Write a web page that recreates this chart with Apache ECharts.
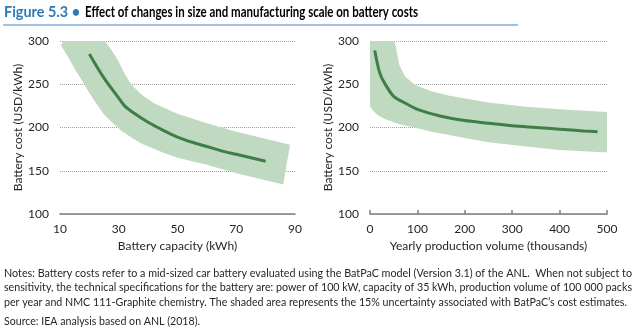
<!DOCTYPE html>
<html><head><meta charset="utf-8">
<script src="https://cdn.jsdelivr.net/npm/echarts@6/dist/echarts.min.js"></script>
<style>html,body{margin:0;padding:0;background:#fff}#c{width:640px;height:329px}</style>
</head><body><div id="c"></div>
<script>
// ---- data ----
const capacityTicks = [10, 30, 50, 70, 90];
const volumeTicks = [0, 100, 200, 300, 400, 500];
const costTicks = [100, 150, 200, 250, 300];

const capacityLine = [[20,285],[25,257],[30,234],[32,225],[35,217],[40,206],[45,197],[50,189],[55,183],[60,178],[65,173],[70,169],[75,165],[80,161]];
const capacityBandUpper = [[10.3,295],[11.2,300],[25.3,300],[27.5,290],[30,276],[32,262],[34.4,249],[37.8,238],[42,228],[50,216],[60,205],[70,195],[80,187],[88.3,180]];
const capacityBandLower = [[10.3,295],[13,280],[15,268],[17.5,254],[20,240],[22.5,227],[25,215],[28,205],[31,196],[35,187],[38,181],[45,171],[50,165],[60,157],[70,147],[80,139],[86,134]];

const volumeLine = [[10,289],[20,264],[30,252],[50,236],[75,228],[100,221],[150,213],[200,208],[250,205],[300,202],[350,200],[400,198],[450,196],[480,195]];
const volumeBandUpper = [[0,300],[52,300],[57,286],[62,272],[74,259],[95,249],[130,242],[165,237],[250,229],[330,224],[400,221],[500,218]];
const volumeBandLower = [[0,225],[5,220],[17.6,214],[30,210],[60,204],[100,199],[130,195],[200,188],[250,183],[330,178],[400,174],[500,171]];

const titleBlue = 'Figure 5.3 \u2022';
const titleBlack = 'Effect of changes in size and manufacturing scale on battery costs';
const notes = [
  'Notes: Battery costs refer to a mid-sized car battery evaluated using the BatPaC model (Version 3.1) of the ANL.  When not subject to',
  'sensitivity, the technical specifications for the battery are: power of 100 kW, capacity of 35 kWh, production volume of 100 000 packs',
  'per year and NMC 111-Graphite chemistry. The shaded area represents the 15% uncertainty associated with BatPaC\u2019s cost estimates.'
];
const source = 'Source: IEA analysis based on ANL (2018).';

// ---- styles ----
const FONT = 'Lato';
const LINE = '#3f7f47';
const BAND = '#c0d9c1';
const TXT = '#262626';

const ctx = document.createElement('canvas').getContext('2d');
function fit(text, size, weight, w) {
  ctx.font = weight + ' ' + size + 'px ' + FONT;
  return w / ctx.measureText(text).width;
}
function txt(text, x, y, size, weight, w, fill) {
  return {type:'text', x:x, y:y, scaleX: fit(text, size, weight, w), silent:true,
    style:{text:text, fontFamily:FONT, fontSize:size, fontWeight:weight, fill:fill||TXT, align:'left', verticalAlign:'middle'}};
}

function bandSeries(upper, lower, idx) {
  return {type:'custom', xAxisIndex:idx, yAxisIndex:idx, clip:true, silent:true, z:1,
    data:[[upper[0][0], upper[0][1]]],
    renderItem:function(params, api){
      const pts = upper.concat(lower.slice().reverse()).map(p => api.coord(p));
      return {type:'polygon', shape:{points:pts}, style:{fill:BAND}};
    }};
}
function lineSeries(data, idx) {
  return {type:'line', xAxisIndex:idx, yAxisIndex:idx, data:data, smooth:0.3, symbol:'none', silent:true, z:3,
    lineStyle:{color:LINE, width:3}};
}

const labelStyle = {fontFamily:FONT, fontSize:12, color:TXT};
function yAxis(idx, gap) {
  return {type:'value', gridIndex:idx, min:100, max:300, interval:50,
    name:'Battery cost (USD/kWh)', nameLocation:'middle', nameGap:gap, nameRotate:90,
    nameTextStyle:{fontFamily:FONT, fontSize:12, color:TXT},
    axisLine:{show:false}, axisTick:{show:false},
    axisLabel:Object.assign({margin:11}, labelStyle),
    splitLine:{show:true, lineStyle:{color:'#a0a0a0', type:[1,1], width:1}}};
}

const chart = echarts.init(document.getElementById('c'), null, {renderer:'canvas'});
chart.setOption({
  animation:false,
  backgroundColor:'#fff',
  grid:[
    {left:60, top:41, width:235, height:173},
    {left:370, top:41, width:237, height:173}
  ],
  xAxis:[
    {type:'value', gridIndex:0, min:10, max:90, interval:20,
      name:'Battery capacity (kWh)', nameLocation:'middle', nameGap:24,
      nameTextStyle:{fontFamily:FONT, fontSize:12, color:TXT},
      axisLine:{show:true, lineStyle:{color:'#7f7f7f', width:1.5}}, axisTick:{show:false},
      axisLabel:Object.assign({margin:9}, labelStyle), splitLine:{show:false}},
    {type:'value', gridIndex:1, min:0, max:500, interval:100,
      name:'Yearly production volume (thousands)', nameLocation:'middle', nameGap:24,
      nameTextStyle:{fontFamily:FONT, fontSize:12, color:TXT},
      axisLine:{show:true, lineStyle:{color:'#7f7f7f', width:1.5}},
      axisTick:{show:true, inside:true, length:4, lineStyle:{color:'#7f7f7f', width:1.5}},
      axisLabel:Object.assign({margin:9}, labelStyle), splitLine:{show:false}}
  ],
  yAxis:[yAxis(0, 36), yAxis(1, 33)],
  series:[
    bandSeries(capacityBandUpper, capacityBandLower, 0),
    lineSeries(capacityLine, 0),
    bandSeries(volumeBandUpper, volumeBandLower, 1),
    lineSeries(volumeLine, 1)
  ],
  graphic:[
    txt(titleBlue, 4, 12, 15.5, 'bold', 76, '#2a7ab8'),
    txt(titleBlack, 85, 12, 15.5, 'bold', 333, '#000'),
    {type:'line', silent:true, shape:{x1:3, y1:25, x2:518, y2:25}, style:{stroke:'#9dc3e6', lineWidth:2}},
    txt(notes[0], 4, 273, 11.5, 'normal', 628),
    txt(notes[1], 4, 287.5, 11.5, 'normal', 628),
    txt(notes[2], 4, 302, 11.5, 'normal', 623),
    txt(source, 4, 321, 11.5, 'normal', 196)
  ]
});
</script></body></html>
